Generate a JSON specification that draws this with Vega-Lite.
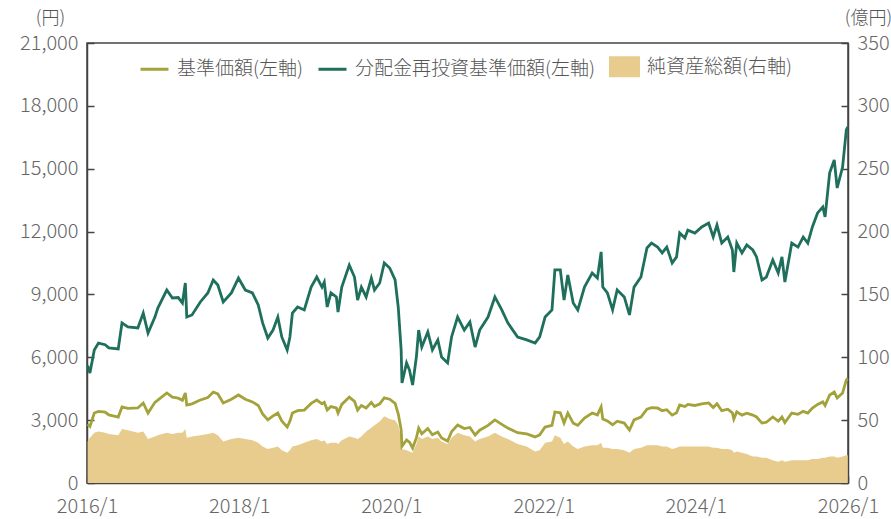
{
  "$schema": "https://vega.github.io/schema/vega-lite/v6.json",
  "width": 761,
  "height": 440,
  "autosize": "none",
  "padding": {"left": 87, "top": 43, "right": 43, "bottom": 36},
  "background": "white",
  "config": {
    "font": "Noto Sans CJK JP",
    "view": {"stroke": "#444", "strokeWidth": 1.5},
    "axis": {
      "labelFont": "Noto Sans CJK JP",
      "labelFontSize": 20,
      "labelColor": "#666",
      "labelFontWeight": 300,
      "domainColor": "#444",
      "domainWidth": 1.5,
      "tickColor": "#444",
      "tickWidth": 1.5,
      "grid": false,
      "titleFont": "Noto Sans CJK JP",
      "titleFontSize": 18,
      "titleFontWeight": 300,
      "titleColor": "#555"
    },
    "legend": {
      "labelFont": "Noto Sans CJK JP",
      "labelFontSize": 19,
      "labelFontWeight": 300,
      "labelColor": "#555",
      "labelLimit": 0
    }
  },
  "data": {
    "values": [
      {"d":"2016-01-04","nav":2800,"reinv":5600,"aum":33},
      {"d":"2016-01-15","nav":2700,"reinv":5250,"aum":36},
      {"d":"2016-02-05","nav":3340,"reinv":6350,"aum":40},
      {"d":"2016-02-25","nav":3420,"reinv":6680,"aum":41},
      {"d":"2016-03-28","nav":3380,"reinv":6600,"aum":40},
      {"d":"2016-04-15","nav":3250,"reinv":6450,"aum":39},
      {"d":"2016-05-30","nav":3150,"reinv":6400,"aum":38},
      {"d":"2016-06-17","nav":3630,"reinv":7640,"aum":43},
      {"d":"2016-07-15","nav":3560,"reinv":7450,"aum":42},
      {"d":"2016-09-01","nav":3580,"reinv":7400,"aum":40},
      {"d":"2016-09-27","nav":3820,"reinv":8110,"aum":41},
      {"d":"2016-10-20","nav":3340,"reinv":7160,"aum":35},
      {"d":"2016-11-22","nav":3850,"reinv":7920,"aum":37},
      {"d":"2016-12-06","nav":3960,"reinv":8350,"aum":38},
      {"d":"2017-01-18","nav":4300,"reinv":9210,"aum":40},
      {"d":"2017-02-14","nav":4100,"reinv":8830,"aum":39},
      {"d":"2017-03-14","nav":4050,"reinv":8850,"aum":40},
      {"d":"2017-04-03","nav":3950,"reinv":8590,"aum":40},
      {"d":"2017-04-17","nav":4300,"reinv":9545,"aum":43},
      {"d":"2017-04-24","nav":3720,"reinv":7920,"aum":36},
      {"d":"2017-05-19","nav":3780,"reinv":8020,"aum":37},
      {"d":"2017-06-28","nav":3960,"reinv":8640,"aum":38},
      {"d":"2017-08-03","nav":4080,"reinv":9070,"aum":39},
      {"d":"2017-08-29","nav":4340,"reinv":9690,"aum":40},
      {"d":"2017-09-20","nav":4250,"reinv":9450,"aum":38},
      {"d":"2017-10-16","nav":3820,"reinv":8640,"aum":33},
      {"d":"2017-11-24","nav":4000,"reinv":9070,"aum":35},
      {"d":"2017-12-28","nav":4200,"reinv":9780,"aum":36},
      {"d":"2018-01-30","nav":4000,"reinv":9210,"aum":35},
      {"d":"2018-03-05","nav":3870,"reinv":9070,"aum":34},
      {"d":"2018-04-02","nav":3700,"reinv":8500,"aum":32},
      {"d":"2018-04-23","nav":3300,"reinv":7640,"aum":29},
      {"d":"2018-05-18","nav":3010,"reinv":6920,"aum":27},
      {"d":"2018-06-12","nav":3200,"reinv":7300,"aum":28},
      {"d":"2018-07-05","nav":3340,"reinv":7920,"aum":29},
      {"d":"2018-07-24","nav":2960,"reinv":6970,"aum":26},
      {"d":"2018-08-19","nav":2670,"reinv":6350,"aum":24},
      {"d":"2018-09-01","nav":2950,"reinv":6970,"aum":26},
      {"d":"2018-09-13","nav":3340,"reinv":8110,"aum":29},
      {"d":"2018-10-08","nav":3450,"reinv":8400,"aum":30},
      {"d":"2018-11-09","nav":3480,"reinv":8260,"aum":32},
      {"d":"2018-12-12","nav":3800,"reinv":9350,"aum":34},
      {"d":"2019-01-08","nav":3960,"reinv":9830,"aum":35},
      {"d":"2019-02-02","nav":3780,"reinv":9350,"aum":33},
      {"d":"2019-02-13","nav":3850,"reinv":9590,"aum":34},
      {"d":"2019-02-27","nav":3480,"reinv":8400,"aum":31},
      {"d":"2019-03-17","nav":3650,"reinv":9070,"aum":32},
      {"d":"2019-04-12","nav":3580,"reinv":8880,"aum":32},
      {"d":"2019-04-20","nav":3340,"reinv":8160,"aum":31},
      {"d":"2019-05-08","nav":3750,"reinv":9350,"aum":34},
      {"d":"2019-06-13","nav":4100,"reinv":10400,"aum":37},
      {"d":"2019-07-08","nav":3900,"reinv":9830,"aum":36},
      {"d":"2019-07-23","nav":3480,"reinv":8730,"aum":35},
      {"d":"2019-08-10","nav":3700,"reinv":9350,"aum":37},
      {"d":"2019-09-02","nav":3580,"reinv":8880,"aum":41},
      {"d":"2019-09-27","nav":3850,"reinv":9780,"aum":44},
      {"d":"2019-10-12","nav":3650,"reinv":9210,"aum":46},
      {"d":"2019-11-06","nav":3780,"reinv":9545,"aum":49},
      {"d":"2019-11-28","nav":4060,"reinv":10500,"aum":53},
      {"d":"2019-12-24","nav":4000,"reinv":10260,"aum":51},
      {"d":"2020-01-19","nav":3800,"reinv":9690,"aum":50},
      {"d":"2020-02-03","nav":3300,"reinv":8400,"aum":46},
      {"d":"2020-02-17","nav":2550,"reinv":6350,"aum":36},
      {"d":"2020-02-21","nav":1750,"reinv":4770,"aum":27},
      {"d":"2020-03-14","nav":2050,"reinv":5730,"aum":26},
      {"d":"2020-03-28","nav":1950,"reinv":5390,"aum":25},
      {"d":"2020-04-12","nav":1670,"reinv":4680,"aum":24},
      {"d":"2020-04-30","nav":2150,"reinv":6010,"aum":31},
      {"d":"2020-05-11","nav":2620,"reinv":7300,"aum":37},
      {"d":"2020-05-26","nav":2350,"reinv":6490,"aum":35},
      {"d":"2020-06-24","nav":2600,"reinv":7210,"aum":37},
      {"d":"2020-07-16","nav":2300,"reinv":6350,"aum":35},
      {"d":"2020-08-11","nav":2430,"reinv":6830,"aum":36},
      {"d":"2020-08-29","nav":2150,"reinv":6010,"aum":33},
      {"d":"2020-09-27","nav":2000,"reinv":5730,"aum":31},
      {"d":"2020-10-16","nav":2450,"reinv":6970,"aum":36},
      {"d":"2020-11-14","nav":2770,"reinv":7920,"aum":40},
      {"d":"2020-12-16","nav":2600,"reinv":7300,"aum":38},
      {"d":"2021-01-12","nav":2650,"reinv":7690,"aum":37},
      {"d":"2021-02-06","nav":2290,"reinv":6490,"aum":33},
      {"d":"2021-02-28","nav":2520,"reinv":7300,"aum":35},
      {"d":"2021-04-09","nav":2750,"reinv":7920,"aum":37},
      {"d":"2021-05-12","nav":3010,"reinv":8880,"aum":40},
      {"d":"2021-06-14","nav":2800,"reinv":8260,"aum":37},
      {"d":"2021-07-13","nav":2620,"reinv":7640,"aum":35},
      {"d":"2021-08-29","nav":2400,"reinv":6970,"aum":31},
      {"d":"2021-10-12","nav":2340,"reinv":6830,"aum":29},
      {"d":"2021-11-21","nav":2200,"reinv":6680,"aum":25},
      {"d":"2021-12-13","nav":2300,"reinv":6970,"aum":26},
      {"d":"2022-01-08","nav":2670,"reinv":7920,"aum":32},
      {"d":"2022-02-10","nav":2750,"reinv":8260,"aum":33},
      {"d":"2022-02-24","nav":3390,"reinv":10170,"aum":38},
      {"d":"2022-03-22","nav":3350,"reinv":10170,"aum":36},
      {"d":"2022-04-09","nav":2860,"reinv":8730,"aum":31},
      {"d":"2022-04-27","nav":3340,"reinv":9930,"aum":33},
      {"d":"2022-05-23","nav":2860,"reinv":8590,"aum":29},
      {"d":"2022-06-14","nav":2750,"reinv":8260,"aum":27},
      {"d":"2022-07-16","nav":3100,"reinv":9350,"aum":29},
      {"d":"2022-08-22","nav":3340,"reinv":10020,"aum":30},
      {"d":"2022-09-16","nav":3250,"reinv":9780,"aum":30},
      {"d":"2022-10-04","nav":3630,"reinv":11030,"aum":32},
      {"d":"2022-10-12","nav":3050,"reinv":9350,"aum":28},
      {"d":"2022-11-03","nav":2960,"reinv":9070,"aum":28},
      {"d":"2022-11-28","nav":2780,"reinv":8260,"aum":27},
      {"d":"2022-12-20","nav":2950,"reinv":9210,"aum":27},
      {"d":"2023-01-23","nav":2860,"reinv":8880,"aum":26},
      {"d":"2023-02-17","nav":2530,"reinv":8020,"aum":24},
      {"d":"2023-03-11","nav":3010,"reinv":9350,"aum":27},
      {"d":"2023-04-13","nav":3150,"reinv":9830,"aum":28},
      {"d":"2023-05-12","nav":3520,"reinv":11220,"aum":30},
      {"d":"2023-06-03","nav":3600,"reinv":11450,"aum":30},
      {"d":"2023-07-02","nav":3580,"reinv":11260,"aum":30},
      {"d":"2023-07-24","nav":3450,"reinv":10980,"aum":29},
      {"d":"2023-08-15","nav":3500,"reinv":11260,"aum":29},
      {"d":"2023-09-10","nav":3240,"reinv":10500,"aum":27},
      {"d":"2023-10-01","nav":3350,"reinv":10790,"aum":28},
      {"d":"2023-10-16","nav":3720,"reinv":11930,"aum":29},
      {"d":"2023-11-10","nav":3650,"reinv":11690,"aum":29},
      {"d":"2023-11-24","nav":3750,"reinv":12070,"aum":29},
      {"d":"2023-12-28","nav":3700,"reinv":11930,"aum":29},
      {"d":"2024-01-30","nav":3780,"reinv":12220,"aum":29},
      {"d":"2024-03-03","nav":3820,"reinv":12410,"aum":29},
      {"d":"2024-03-25","nav":3600,"reinv":11740,"aum":28},
      {"d":"2024-04-12","nav":3780,"reinv":12310,"aum":28},
      {"d":"2024-05-05","nav":3450,"reinv":11450,"aum":27},
      {"d":"2024-06-03","nav":3520,"reinv":11740,"aum":27},
      {"d":"2024-06-25","nav":3350,"reinv":11120,"aum":26},
      {"d":"2024-07-02","nav":3050,"reinv":10070,"aum":24},
      {"d":"2024-07-16","nav":3400,"reinv":11450,"aum":25},
      {"d":"2024-08-10","nav":3240,"reinv":10980,"aum":24},
      {"d":"2024-09-02","nav":3330,"reinv":11360,"aum":23},
      {"d":"2024-10-01","nav":3240,"reinv":11120,"aum":21},
      {"d":"2024-10-19","nav":3150,"reinv":10790,"aum":21},
      {"d":"2024-11-14","nav":2860,"reinv":9690,"aum":20},
      {"d":"2024-12-05","nav":2900,"reinv":9830,"aum":20},
      {"d":"2025-01-05","nav":3150,"reinv":10640,"aum":18},
      {"d":"2025-01-31","nav":2950,"reinv":10020,"aum":17},
      {"d":"2025-02-18","nav":3150,"reinv":10790,"aum":18},
      {"d":"2025-03-04","nav":2880,"reinv":9590,"aum":17},
      {"d":"2025-04-06","nav":3340,"reinv":11450,"aum":18},
      {"d":"2025-05-06","nav":3280,"reinv":11260,"aum":18},
      {"d":"2025-05-31","nav":3420,"reinv":11740,"aum":18},
      {"d":"2025-06-22","nav":3340,"reinv":11450,"aum":18},
      {"d":"2025-07-14","nav":3580,"reinv":12220,"aum":19},
      {"d":"2025-08-08","nav":3750,"reinv":12890,"aum":19},
      {"d":"2025-09-02","nav":3870,"reinv":13170,"aum":20},
      {"d":"2025-09-13","nav":3700,"reinv":12700,"aum":20},
      {"d":"2025-10-05","nav":4200,"reinv":14800,"aum":21},
      {"d":"2025-10-27","nav":4340,"reinv":15420,"aum":21},
      {"d":"2025-11-10","nav":4060,"reinv":14080,"aum":20},
      {"d":"2025-12-06","nav":4300,"reinv":15080,"aum":21},
      {"d":"2025-12-24","nav":4920,"reinv":16850,"aum":22},
      {"d":"2025-12-31","nav":4980,"reinv":17000,"aum":22}
    ]
  },
  "layer": [
    {
      "mark": {"type": "area", "interpolate": "linear"},
      "encoding": {
        "x": {
          "field": "d", "type": "temporal",
          "scale": {"type": "utc", "domain": [{"year": 2016, "month": 1, "date": 1, "utc": true}, {"year": 2026, "month": 1, "date": 1, "utc": true}]},
          "axis": {
            "title": null,
            "values": [
              {"year": 2016, "month": 1, "date": 1, "utc": true},
              {"year": 2018, "month": 1, "date": 1, "utc": true},
              {"year": 2020, "month": 1, "date": 1, "utc": true},
              {"year": 2022, "month": 1, "date": 1, "utc": true},
              {"year": 2024, "month": 1, "date": 1, "utc": true},
              {"year": 2026, "month": 1, "date": 1, "utc": true}
            ],
            "labelExpr": "utcFormat(datum.value, '%Y/%-m')",
            "tickSize": -7,
            "labelPadding": 20,
            "labelFlush": false,
            "labelOverlap": false
          }
        },
        "y": {
          "field": "aum", "type": "quantitative",
          "scale": {"domain": [0, 350], "nice": false},
          "axis": {
            "orient": "right",
            "values": [0, 50, 100, 150, 200, 250, 300, 350],
            "tickSize": -7,
            "labelPadding": 16,
            "title": "(億円)",
            "titleAngle": 0,
            "titleX": 20,
            "titleY": -25,
            "titleAlign": "center",
            "titleBaseline": "middle"
          }
        },
        "color": {"datum": "aum"}
      }
    },
    {
      "transform": [{"fold": ["nav", "reinv"], "as": ["series", "val"]}],
      "mark": {"type": "line", "strokeWidth": 2.8, "interpolate": "linear"},
      "encoding": {
        "x": {"field": "d", "type": "temporal"},
        "y": {
          "field": "val", "type": "quantitative",
          "scale": {"domain": [0, 21000], "nice": false},
          "axis": {
            "orient": "left",
            "values": [0, 3000, 6000, 9000, 12000, 15000, 18000, 21000],
            "format": ",d",
            "tickSize": -7,
            "labelPadding": 16,
            "title": "(円)",
            "titleAngle": 0,
            "titleX": -37,
            "titleY": -25,
            "titleAlign": "center",
            "titleBaseline": "middle"
          }
        },
        "color": {
          "field": "series", "type": "nominal",
          "scale": {"domain": ["nav", "reinv", "aum"], "range": ["#a3a23b", "#1f6f5d", "#e8cc8e"]},
          "legend": {
            "title": null,
            "orient": "none",
            "legendX": 52,
            "legendY": 8,
            "direction": "horizontal",
            "columnPadding": 9,
            "labelOffset": 7,
            "symbolSize": 784,
            "symbolStrokeWidth": 3,
            "labelExpr": "datum.value == 'nav' ? '基準価額(左軸)' : datum.value == 'reinv' ? '分配金再投資基準価額(左軸)' : '純資産総額(右軸)'",
            "encode": {
              "symbols": {
                "update": {
                  "shape": {"signal": "datum.value == 'aum' ? 'M-1,-0.64H1V0.64H-1Z' : 'stroke'"},
                  "fill": {"signal": "datum.value == 'aum' ? '#e8cc8e' : 'transparent'"},
                  "stroke": {"signal": "datum.value == 'aum' ? 'transparent' : (datum.value == 'nav' ? '#a3a23b' : '#1f6f5d')"},
                  "strokeWidth": {"value": 3},
                  "opacity": {"value": 1}
                }
              }
            }
          }
        }
      }
    }
  ],
  "resolve": {"scale": {"y": "independent"}}
}
